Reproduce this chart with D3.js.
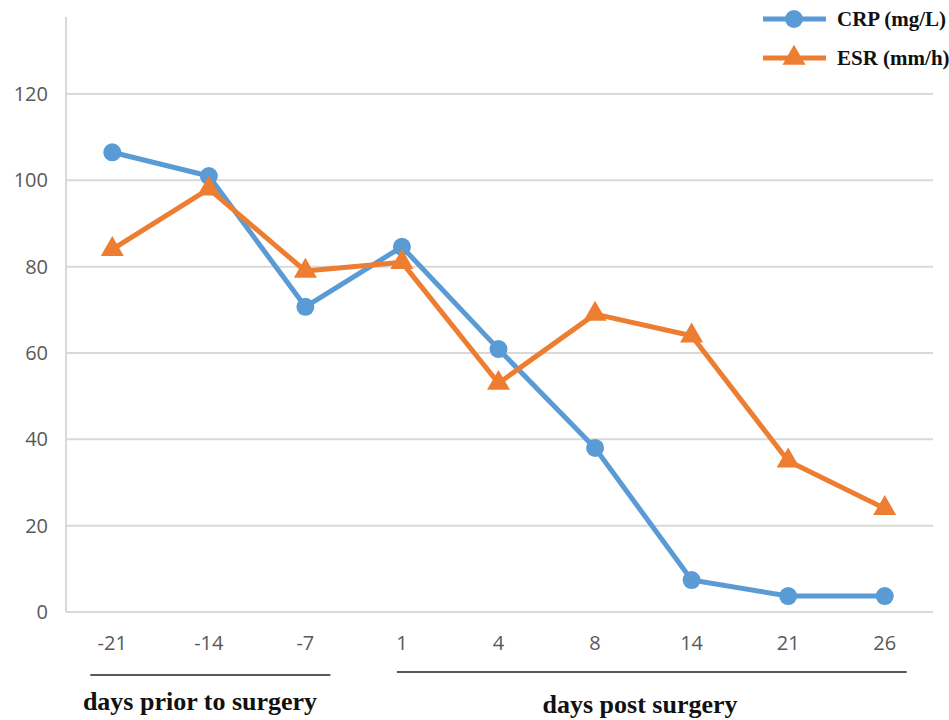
<!DOCTYPE html>
<html><head><meta charset="utf-8">
<script src="https://cdn.jsdelivr.net/npm/d3@7"></script>
<style>body{margin:0;background:#fff}</style>
</head><body>
<svg id="c" width="949" height="720"></svg>
<script>
const categories = ["-21","-14","-7","1","4","8","14","21","26"];
const crp = [106.5, 101, 70.7, 84.6, 60.9, 38, 7.4, 3.7, 3.7];
const esr = [84, 98, 79, 81, 53, 69, 64, 35, 24];
const yTicks = [0, 20, 40, 60, 80, 100, 120];
const seriesNames = ["CRP (mg/L)", "ESR (mm/h)"];
const groupLabels = ["days prior to surgery", "days post surgery"];

const svg = d3.select("#c");
const x = d3.scaleBand().domain(categories).range([64, 933]);
const y = d3.scaleLinear().domain([0, 120]).range([612, 94]);
const blue = "#5B9BD5", orange = "#ED7D31";

// gridlines
svg.append("g").selectAll("line").data(yTicks).join("line")
  .attr("x1", 66).attr("x2", 933).attr("y1", d => y(d)).attr("y2", d => y(d))
  .attr("stroke", "#d9d9d9").attr("stroke-width", 2);
// y axis line
svg.append("line").attr("x1", 66).attr("x2", 66).attr("y1", 17).attr("y2", 612)
  .attr("stroke", "#d9d9d9").attr("stroke-width", 2);

// y labels
svg.append("g").selectAll("text").data(yTicks).join("text")
  .attr("x", 48).attr("y", d => y(d) + 7).attr("text-anchor", "end")
  .attr("font-family", "Open Sans, Liberation Sans, sans-serif").attr("font-size", 20)
  .attr("fill", "#595959").text(d => d);

// x labels
svg.append("g").selectAll("text").data(categories).join("text")
  .attr("x", d => x(d) + x.bandwidth() / 2).attr("y", 650).attr("text-anchor", "middle")
  .attr("font-family", "Open Sans, Liberation Sans, sans-serif").attr("font-size", 20)
  .attr("fill", "#595959").text(d => d);

// group brackets
const c = d => x(d) + x.bandwidth() / 2;
svg.append("line").attr("x1", c("-21") - 22).attr("x2", c("-7") + 25).attr("y1", 675).attr("y2", 675)
  .attr("stroke", "#222").attr("stroke-width", 1.5);
svg.append("line").attr("x1", c("1") - 5).attr("x2", c("26") + 22).attr("y1", 672).attr("y2", 672)
  .attr("stroke", "#222").attr("stroke-width", 1.5);
svg.append("text").attr("x", 200).attr("y", 710).attr("text-anchor", "middle")
  .attr("font-family", "Liberation Serif, serif").attr("font-weight", "bold").attr("font-size", 26)
  .attr("fill", "#111").text(groupLabels[0]);
svg.append("text").attr("x", 640).attr("y", 713).attr("text-anchor", "middle")
  .attr("font-family", "Liberation Serif, serif").attr("font-weight", "bold").attr("font-size", 26)
  .attr("fill", "#111").text(groupLabels[1]);

const line = d3.line().x((d, i) => c(categories[i])).y(d => y(d));
// CRP
svg.append("path").datum(crp).attr("d", line).attr("fill", "none")
  .attr("stroke", blue).attr("stroke-width", 5).attr("stroke-linejoin", "round");
svg.append("g").selectAll("circle").data(crp).join("circle")
  .attr("cx", (d, i) => c(categories[i])).attr("cy", d => y(d)).attr("r", 9).attr("fill", blue);
// ESR
svg.append("path").datum(esr).attr("d", line).attr("fill", "none")
  .attr("stroke", orange).attr("stroke-width", 5).attr("stroke-linejoin", "round");
const tri = d3.symbol().type(d3.symbolTriangle).size(230);
svg.append("g").selectAll("path").data(esr).join("path")
  .attr("d", tri).attr("transform", (d, i) => `translate(${c(categories[i])},${y(d)})`).attr("fill", orange);

// legend
const leg = [{n: seriesNames[0], col: blue, yy: 19, s: "c"}, {n: seriesNames[1], col: orange, yy: 58, s: "t"}];
leg.forEach(l => {
  svg.append("line").attr("x1", 763).attr("x2", 826).attr("y1", l.yy).attr("y2", l.yy)
    .attr("stroke", l.col).attr("stroke-width", 5);
  if (l.s === "c") svg.append("circle").attr("cx", 794).attr("cy", l.yy).attr("r", 9).attr("fill", l.col);
  else svg.append("path").attr("d", tri).attr("transform", `translate(794,${l.yy})`).attr("fill", l.col);
  svg.append("text").attr("x", 837).attr("y", l.yy + 7).attr("font-family", "Liberation Serif, serif")
    .attr("font-weight", "bold").attr("font-size", 21).attr("fill", "#111").text(l.n);
});
</script>
</body></html>
